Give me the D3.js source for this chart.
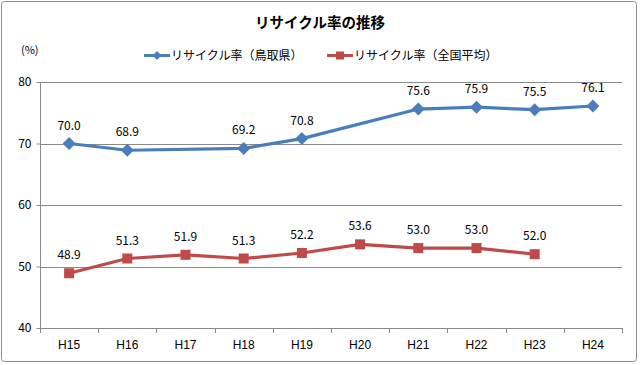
<!DOCTYPE html>
<html><head><meta charset="utf-8">
<script src="https://cdn.jsdelivr.net/npm/d3@7"></script>
<style>
html,body{margin:0;padding:0;background:#fff;}
svg{display:block;font-family:"Noto Sans CJK JP","Noto Sans",sans-serif;}
</style></head>
<body>
<script>
const categories = ["H15","H16","H17","H18","H19","H20","H21","H22","H23","H24"];
const tottori = [70.0, 68.9, null, 69.2, 70.8, null, 75.6, 75.9, 75.5, 76.1];
const national = [48.9, 51.3, 51.9, 51.3, 52.2, 53.6, 53.0, 53.0, 52.0, null];
const yTicks = [40, 50, 60, 70, 80];
const seriesNames = ["リサイクル率（鳥取県）", "リサイクル率（全国平均）"];
const title = "リサイクル率の推移";

(function(){
const W = 640, H = 365;
const svg = d3.select("body").append("svg").attr("width", W).attr("height", H);
svg.append("rect").attr("x",1.5).attr("y",1.5).attr("width",635).attr("height",360)
  .attr("rx",3).attr("fill","#fff").attr("stroke","#8c8c8c").attr("stroke-width",1);

const pLeft = 40, pRight = 622, pTop = 82, pBottom = 328;
const x = d3.scaleBand().domain(categories).range([pLeft, pRight]);
const y = d3.scaleLinear().domain([40, 80]).range([pBottom, pTop]);

// gridlines
svg.append("g").selectAll("line").data(yTicks.filter(d => d !== 40)).join("line")
  .attr("x1", pLeft).attr("x2", pRight)
  .attr("y1", d => Math.round(y(d)) + 0.5).attr("y2", d => Math.round(y(d)) + 0.5)
  .attr("stroke", "#8a8a8a").attr("stroke-width", 1);

// y axis
const yAxis = svg.append("g").attr("transform", `translate(${pLeft + 0.5},0)`)
  .call(d3.axisLeft(y).tickValues(yTicks).tickSize(4).tickPadding(5).tickFormat(d3.format("d")));
yAxis.selectAll("path,line").attr("stroke", "#8a8a8a");
yAxis.select(".domain").attr("d", `M0,${pTop}V${pBottom}`);
yAxis.selectAll("text").attr("font-size", 12).attr("fill", "#000")
  .attr("font-family", "'Noto Sans CJK JP', sans-serif");

// x axis
const xAxis = svg.append("g").attr("transform", `translate(0,${pBottom + 0.5})`)
  .call(d3.axisBottom(x).tickSize(0).tickPadding(12));
xAxis.select(".domain").attr("stroke", "#8a8a8a").attr("d", `M${pLeft},0H${pRight}`);
xAxis.selectAll("text").attr("font-size", 12).attr("fill", "#000");
// tick marks at band boundaries
svg.append("g").selectAll("line").data(d3.range(categories.length + 1)).join("line")
  .attr("x1", i => Math.round(pLeft + i * x.step()) + 0.5)
  .attr("x2", i => Math.round(pLeft + i * x.step()) + 0.5)
  .attr("y1", pBottom).attr("y2", pBottom + 5)
  .attr("stroke", "#8a8a8a");

const cx = c => x(c) + x.bandwidth() / 2;

function drawSeries(vals, color, shape) {
  const pts = categories.map((c, i) => ({c, v: vals[i]})).filter(d => d.v != null);
  const line = d3.line().x(d => cx(d.c)).y(d => y(d.v));
  svg.append("path").datum(pts).attr("d", line).attr("fill", "none")
    .attr("stroke", color).attr("stroke-width", 3.2).attr("stroke-linejoin", "round");
  const g = svg.append("g");
  if (shape === "diamond") {
    g.selectAll("path").data(pts).join("path")
      .attr("d", d => { const px = cx(d.c), py = y(d.v), r = 6.5;
        return `M${px},${py - r}L${px + r},${py}L${px},${py + r}L${px - r},${py}Z`; })
      .attr("fill", color);
  } else {
    g.selectAll("rect").data(pts).join("rect")
      .attr("x", d => cx(d.c) - 5).attr("y", d => y(d.v) - 5)
      .attr("width", 10).attr("height", 10).attr("fill", color);
  }
  svg.append("g").selectAll("text").data(pts).join("text")
    .attr("x", d => cx(d.c)).attr("y", d => y(d.v) - 14)
    .attr("text-anchor", "middle").attr("font-size", 12).attr("fill", "#000")
    .text(d => d.v.toFixed(1));
}
drawSeries(tottori, "#4A7EBB", "diamond");
drawSeries(national, "#BE4B48", "square");

// title
svg.append("text").attr("x", 320).attr("y", 28).attr("text-anchor", "middle")
  .attr("font-size", 14.5).attr("font-weight", "bold").text(title);
svg.append("text").attr("x", 21).attr("y", 54).attr("font-size", 11).text("(%)");

// legend
const legend = [
  {name: seriesNames[0], color: "#4A7EBB", shape: "diamond", x: 144},
  {name: seriesNames[1], color: "#BE4B48", shape: "square", x: 327}
];
const ly = 55.5;
legend.forEach(l => {
  svg.append("line").attr("x1", l.x).attr("x2", l.x + 26).attr("y1", ly).attr("y2", ly)
    .attr("stroke", l.color).attr("stroke-width", 3);
  if (l.shape === "diamond") {
    const px = l.x + 13, r = 4.5;
    svg.append("path").attr("d", `M${px},${ly - r}L${px + r},${ly}L${px},${ly + r}L${px - r},${ly}Z`).attr("fill", l.color);
  } else {
    svg.append("rect").attr("x", l.x + 9).attr("y", ly - 4).attr("width", 8).attr("height", 8).attr("fill", l.color);
  }
  svg.append("text").attr("x", l.x + 27).attr("y", ly + 4.5).attr("font-size", 12).text(l.name);
});
})();
</script>
</body></html>
